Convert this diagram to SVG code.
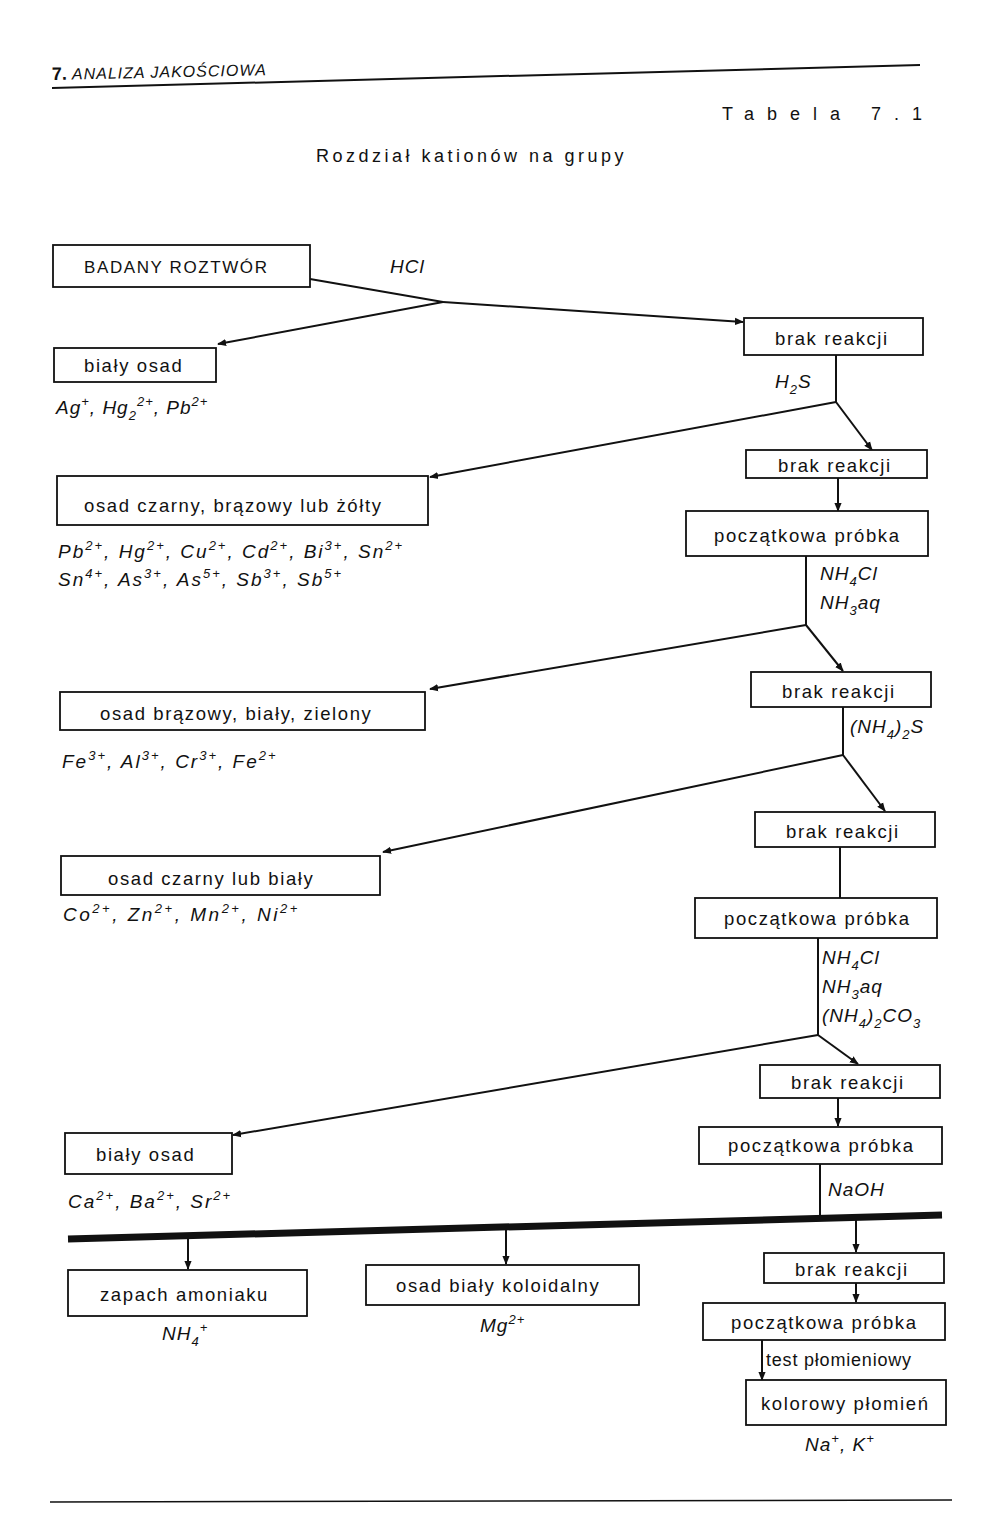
<svg xmlns="http://www.w3.org/2000/svg" width="1000" height="1540" viewBox="0 0 1000 1540">
<defs>
<marker id="ar" viewBox="0 0 10 10" refX="9" refY="5" markerWidth="9" markerHeight="9" orient="auto" markerUnits="userSpaceOnUse"><path d="M0,1 L10,5 L0,9 Z" fill="#111"/></marker>
</defs>
<style>
text{font-family:"Liberation Sans",Arial,sans-serif;fill:#111;font-size:18px}
.b rect{fill:#fff;stroke:#111;stroke-width:1.8}
.c line,.c polyline{stroke:#111;stroke-width:2;fill:none}
.c .bar{stroke-width:7}
.i{font-style:italic;font-size:19px;letter-spacing:1px}
.s{font-size:13px}
.t{letter-spacing:1.6px;font-size:18.5px}
</style>
<rect width="1000" height="1540" fill="#fff"/>
<text x="52" y="80" font-size="19" font-weight="bold" transform="rotate(-1.3 52 80)">7. <tspan font-size="16" font-weight="normal" font-style="italic" letter-spacing="1">ANALIZA JAKOŚCIOWA</tspan></text>
<line x1="52" y1="88" x2="920" y2="65" stroke="#111" stroke-width="2"/>
<text x="722" y="120" font-size="24" letter-spacing="13">Tabela 7.1</text>
<text x="316" y="162" font-size="24" letter-spacing="3.5">Rozdział kationów na grupy</text>

<g class="c">
<polyline points="310,279 443,302"/>
<line x1="443" y1="302" x2="743" y2="322" marker-end="url(#ar)"/>
<line x1="443" y1="302" x2="218" y2="344" marker-end="url(#ar)"/>
<polyline points="836,355 836,402"/>
<line x1="836" y1="402" x2="430" y2="477" marker-end="url(#ar)"/>
<line x1="836" y1="402" x2="872" y2="450" marker-end="url(#ar)"/>
<line x1="838" y1="477" x2="838" y2="511" marker-end="url(#ar)"/>
<polyline points="806,556 806,625"/>
<line x1="806" y1="625" x2="430" y2="689" marker-end="url(#ar)"/>
<line x1="806" y1="625" x2="843" y2="671" marker-end="url(#ar)"/>
<polyline points="843,707 843,755"/>
<line x1="843" y1="755" x2="383" y2="852" marker-end="url(#ar)"/>
<line x1="843" y1="755" x2="885" y2="811" marker-end="url(#ar)"/>
<polyline points="840,847 840,898"/>
<polyline points="818,938 818,1035"/>
<line x1="818" y1="1035" x2="233" y2="1135" marker-end="url(#ar)"/>
<line x1="818" y1="1035" x2="858" y2="1064" marker-end="url(#ar)"/>
<line x1="838" y1="1098" x2="838" y2="1126" marker-end="url(#ar)"/>
<polyline points="820,1164 820,1217"/>
<line class="bar" x1="68" y1="1239" x2="942" y2="1215"/>
<line x1="188" y1="1238" x2="188" y2="1269" marker-end="url(#ar)"/>
<line x1="506" y1="1229" x2="506" y2="1264" marker-end="url(#ar)"/>
<line x1="856" y1="1219" x2="856" y2="1252" marker-end="url(#ar)"/>
<line x1="856" y1="1283" x2="856" y2="1302" marker-end="url(#ar)"/>
<line x1="762" y1="1340" x2="762" y2="1380" marker-end="url(#ar)"/>
</g>

<g class="b">
<g id="n1"><rect x="53" y="245" width="257" height="42"/><text x="84" y="273" class="t" style="font-size:17px">BADANY ROZTWÓR</text></g>
<g id="n2"><rect x="54" y="348" width="162" height="34"/><text x="84" y="372" class="t">biały osad</text></g>
<g id="n3"><rect x="744" y="318" width="179" height="37"/><text x="775" y="345" class="t">brak reakcji</text></g>
<g id="n4"><rect x="746" y="450" width="181" height="28"/><text x="778" y="472" class="t">brak reakcji</text></g>
<g id="n5"><rect x="57" y="476" width="371" height="49"/><text x="84" y="512" class="t">osad czarny, brązowy lub żółty</text></g>
<g id="n6"><rect x="686" y="511" width="242" height="45"/><text x="714" y="542" class="t">początkowa próbka</text></g>
<g id="n7"><rect x="751" y="672" width="180" height="35"/><text x="782" y="698" class="t">brak reakcji</text></g>
<g id="n8"><rect x="60" y="692" width="365" height="38"/><text x="100" y="720" class="t">osad brązowy, biały, zielony</text></g>
<g id="n9"><rect x="755" y="812" width="180" height="35"/><text x="786" y="838" class="t">brak reakcji</text></g>
<g id="n10"><rect x="61" y="856" width="319" height="39"/><text x="108" y="885" class="t">osad czarny lub biały</text></g>
<g id="n11"><rect x="695" y="898" width="242" height="40"/><text x="724" y="925" class="t">początkowa próbka</text></g>
<g id="n12"><rect x="760" y="1065" width="180" height="33"/><text x="791" y="1089" class="t">brak reakcji</text></g>
<g id="n13"><rect x="65" y="1133" width="167" height="41"/><text x="96" y="1161" class="t">biały osad</text></g>
<g id="n14"><rect x="699" y="1127" width="243" height="37"/><text x="728" y="1152" class="t">początkowa próbka</text></g>
<g id="n15"><rect x="68" y="1270" width="239" height="46"/><text x="100" y="1301" class="t">zapach amoniaku</text></g>
<g id="n16"><rect x="366" y="1265" width="273" height="40"/><text x="396" y="1292" class="t">osad biały koloidalny</text></g>
<g id="n17"><rect x="764" y="1253" width="180" height="30"/><text x="795" y="1276" class="t">brak reakcji</text></g>
<g id="n18"><rect x="703" y="1303" width="242" height="37"/><text x="731" y="1329" class="t">początkowa próbka</text></g>
<g id="n19"><rect x="746" y="1380" width="200" height="45"/><text x="761" y="1410" class="t">kolorowy płomień</text></g>
</g>

<g class="i">
<text x="390" y="273" class="i">HCl</text>
<text x="56" y="414" class="i">Ag<tspan class="s" dy="-8">+</tspan><tspan dy="8">,  Hg</tspan><tspan class="s" dy="6">2</tspan><tspan class="s" dy="-14">2+</tspan><tspan dy="8">,  Pb</tspan><tspan class="s" dy="-8">2+</tspan></text>
<text x="775" y="388" class="i">H<tspan class="s" dy="6">2</tspan><tspan dy="-6">S</tspan></text>
<text x="58" y="558" class="i" style="letter-spacing:2px">Pb<tspan class="s" dy="-8">2+</tspan><tspan dy="8">,  Hg</tspan><tspan class="s" dy="-8">2+</tspan><tspan dy="8">,  Cu</tspan><tspan class="s" dy="-8">2+</tspan><tspan dy="8">,  Cd</tspan><tspan class="s" dy="-8">2+</tspan><tspan dy="8">,  Bi</tspan><tspan class="s" dy="-8">3+</tspan><tspan dy="8">,  Sn</tspan><tspan class="s" dy="-8">2+</tspan></text>
<text x="58" y="586" class="i" style="letter-spacing:2px">Sn<tspan class="s" dy="-8">4+</tspan><tspan dy="8">,  As</tspan><tspan class="s" dy="-8">3+</tspan><tspan dy="8">,  As</tspan><tspan class="s" dy="-8">5+</tspan><tspan dy="8">,  Sb</tspan><tspan class="s" dy="-8">3+</tspan><tspan dy="8">,  Sb</tspan><tspan class="s" dy="-8">5+</tspan></text>
<text x="820" y="580" class="i">NH<tspan class="s" dy="6">4</tspan><tspan dy="-6">Cl</tspan></text>
<text x="820" y="609" class="i">NH<tspan class="s" dy="6">3</tspan><tspan dy="-6">aq</tspan></text>
<text x="62" y="768" class="i" style="letter-spacing:2px">Fe<tspan class="s" dy="-8">3+</tspan><tspan dy="8">,  Al</tspan><tspan class="s" dy="-8">3+</tspan><tspan dy="8">,  Cr</tspan><tspan class="s" dy="-8">3+</tspan><tspan dy="8">,  Fe</tspan><tspan class="s" dy="-8">2+</tspan></text>
<text x="850" y="733" class="i">(NH<tspan class="s" dy="6">4</tspan><tspan dy="-6">)</tspan><tspan class="s" dy="6">2</tspan><tspan dy="-6">S</tspan></text>
<text x="63" y="921" class="i" style="letter-spacing:2.5px">Co<tspan class="s" dy="-8">2+</tspan><tspan dy="8">,  Zn</tspan><tspan class="s" dy="-8">2+</tspan><tspan dy="8">,  Mn</tspan><tspan class="s" dy="-8">2+</tspan><tspan dy="8">,  Ni</tspan><tspan class="s" dy="-8">2+</tspan></text>
<text x="822" y="964" class="i">NH<tspan class="s" dy="6">4</tspan><tspan dy="-6">Cl</tspan></text>
<text x="822" y="993" class="i">NH<tspan class="s" dy="6">3</tspan><tspan dy="-6">aq</tspan></text>
<text x="822" y="1022" class="i">(NH<tspan class="s" dy="6">4</tspan><tspan dy="-6">)</tspan><tspan class="s" dy="6">2</tspan><tspan dy="-6">CO</tspan><tspan class="s" dy="6">3</tspan></text>
<text x="68" y="1208" class="i" style="letter-spacing:2px">Ca<tspan class="s" dy="-8">2+</tspan><tspan dy="8">,  Ba</tspan><tspan class="s" dy="-8">2+</tspan><tspan dy="8">,  Sr</tspan><tspan class="s" dy="-8">2+</tspan></text>
<text x="828" y="1196" class="i">NaOH</text>
<text x="162" y="1340" class="i">NH<tspan class="s" dy="6">4</tspan><tspan class="s" dy="-14">+</tspan></text>
<text x="480" y="1332" class="i">Mg<tspan class="s" dy="-8">2+</tspan></text>
<text x="805" y="1451" class="i">Na<tspan class="s" dy="-8">+</tspan><tspan dy="8">,  K</tspan><tspan class="s" dy="-8">+</tspan></text>
</g>
<text x="766" y="1366" font-size="16" letter-spacing="0.8">test płomieniowy</text>
<line x1="50" y1="1502" x2="952" y2="1500" stroke="#111" stroke-width="1.5"/>
</svg>
